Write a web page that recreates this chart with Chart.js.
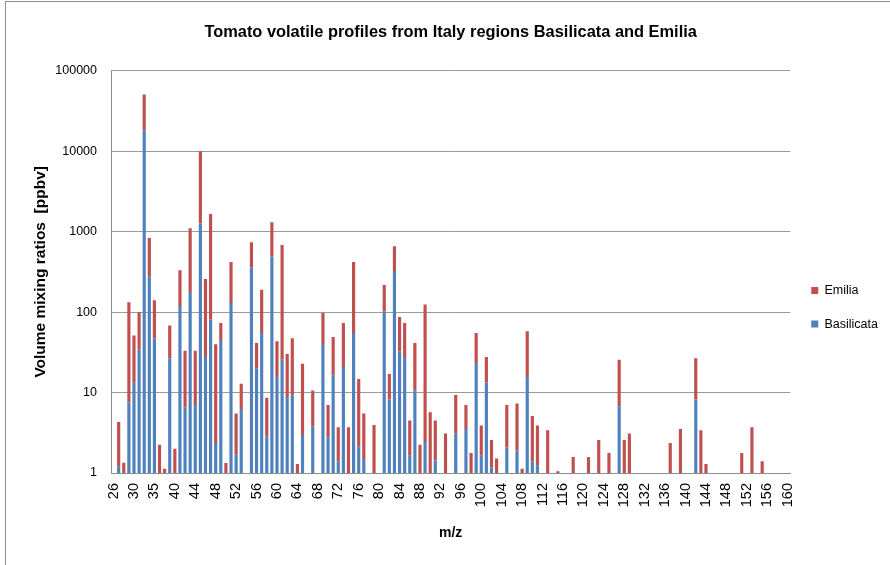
<!DOCTYPE html>
<html>
<head>
<meta charset="utf-8">
<script src="https://cdn.jsdelivr.net/npm/chart.js@4.4.1/dist/chart.umd.min.js"></script>
<style>
  html, body { margin: 0; padding: 0; background: #fff; overflow: hidden; }
  #wrap { position: relative; width: 890px; height: 565px; }
  #frame { position: absolute; left: 5px; top: 1px; width: 900px; height: 600px;
           border-left: 1px solid #8c8c8c; border-top: 1px solid #8c8c8c; pointer-events: none; }
</style>
</head>
<body>
<div id="wrap">
  <canvas id="chart" width="890" height="565"></canvas>
  <div id="frame"></div>
</div>
<script>
// ===== Data =====
const mzLabels = [
  26, 27, 28, 29, 30, 31, 33, 34, 35, 36,
  38, 39, 40, 41, 42, 43, 44, 45, 46, 47,
  48, 49, 50, 51, 52, 53, 54, 55, 56, 57,
  58, 59, 60, 61, 62, 63, 64, 65, 66, 67,
  68, 69, 70, 71, 72, 73, 74, 75, 76, 77,
  78, 79, 80, 81, 82, 83, 84, 85, 86, 87,
  88, 89, 90, 91, 92, 93, 94, 95, 96, 97,
  98, 99, 100, 101, 102, 103, 104, 105, 106, 107,
  108, 109, 110, 111, 112, 113, 114, 115, 116, 117,
  118, 119, 120, 121, 122, 123, 124, 125, 126, 127,
  128, 129, 130, 131, 132, 133, 134, 135, 136, 137,
  138, 139, 140, 141, 142, 143, 144, 145, 146, 147,
  148, 149, 150, 151, 152, 153, 154, 155, 156, 157,
  158, 159, 160
];

const basilicata = [
  null, 1.2, null, 7.6, 13.4, 34, 18200, 278, 47, null,
  null, 26.6, null, 119, 6.5, 178, 7.0, 1257, 27.7, 80,
  2.36, 45, null, 130, 1.69, 6.25, null, 357, 20, 55,
  2.86, 489, 15.6, 25.6, 8.8, 9.2, null, 2.96, null, 3.8,
  null, 40, 2.78, 16.4, 1.4, 20.8, null, 55, 2.15, 1.49,
  null, null, null, 102, 8.2, 324, 32.5, 27.7, 1.64, 10.6,
  null, 2.43, null, 1.44, null, null, null, 3.1, null, 3.52,
  null, 23.3, 1.64, 13.4, 1.18, null, null, 2.08, null, 1.91,
  null, 15.6, 1.4, 1.25, null, null, null, null, null, null,
  null, null, null, null, null, null, null, null, null, 6.74,
  null, null, null, null, null, null, null, null, null, null,
  null, null, null, null, 8.2, null, null, null, null, null,
  null, null, null, null, null, null, null, null, null, null,
  null, null, null
];

const emilia = [
  null, 3.1, 1.34, 125, 37.6, 66, 32200, 556, 93, 2.25,
  1.13, 41.4, 2.0, 211, 26.5, 922, 26, 8700, 230, 1577,
  37.6, 28, 1.33, 290, 3.8, 6.65, null, 379, 21.3, 135,
  5.74, 817, 27.7, 656, 21.3, 38, 1.29, 19.8, null, 6.8,
  null, 57.5, 4.2, 32.6, 2.3, 52.2, 3.7, 365, 12.55, 4.0,
  null, 3.95, null, 115, 8.8, 333, 54.5, 45.3, 2.86, 30.7,
  2.25, 121.6, 5.68, 3.06, null, 3.1, null, 6.2, null, 3.48,
  1.77, 31.7, 2.24, 14.3, 1.39, 1.51, null, 4.92, null, 5.39,
  1.13, 42.1, 3.7, 2.63, null, 3.39, null, 1.05, null, null,
  1.58, null, null, 1.58, null, 2.57, null, 1.77, null, 18.9,
  2.57, 3.1, null, null, null, null, null, null, null, 2.36,
  null, 3.52, null, null, 18.4, 3.39, 1.29, null, null, null,
  null, null, null, 1.77, null, 3.7, null, 1.4, null, null,
  null, null, null
];

const yTicks = [1, 10, 100, 1000, 10000, 100000];

// ===== Look =====
const FONT = "'Liberation Sans', Arial, sans-serif";
const BLUE = '#4f81bd';
const RED = '#c0504d';
const GRID = '#9a9a9a';

Chart.defaults.font.family = FONT;
Chart.defaults.color = '#000';

const ctx = document.getElementById('chart').getContext('2d');

new Chart(ctx, {
    type: 'bar',
    data: {
        labels: mzLabels,
        datasets: [
            {
                label: 'Basilicata',
                data: basilicata,
                backgroundColor: BLUE,
                barPercentage: 0.62,
                categoryPercentage: 1.0
            },
            {
                label: 'Emilia',
                data: emilia,
                backgroundColor: RED,
                barPercentage: 0.62,
                categoryPercentage: 1.0
            }
        ]
    },
    options: {
        responsive: false,
        animation: false,
        devicePixelRatio: 1,
        layout: { padding: { left: 0, right: 2, top: 0, bottom: 0 } },
        plugins: {
            title: {
                display: true,
                fullSize: false,
                text: 'Tomato volatile profiles from Italy regions Basilicata and Emilia',
                font: { size: 16.4, weight: 'bold' },
                color: '#000',
                padding: { top: 23, bottom: 28 }
            },
            legend: {
                position: 'right',
                fullSize: false,
                reverse: true,
                title: { display: true, text: '', font: { size: 10 }, padding: { top: 0, bottom: 59 } },
                labels: {
                    boxWidth: 7,
                    boxHeight: 7,
                    padding: 21,
                    font: { size: 12.5 },
                    color: '#000'
                }
            },
            tooltip: { enabled: false }
        },
        scales: {
            x: {
                stacked: true,
                grid: { display: false, drawTicks: false },
                border: { display: true, color: '#8c8c8c' },
                ticks: {
                    autoSkip: false,
                    minRotation: 90,
                    maxRotation: 90,
                    padding: 10,
                    font: { size: 14.5 },
                    color: '#000',
                    callback: (v, i) => (i % 4 === 0 ? mzLabels[i] : '')
                },
                title: {
                    display: true,
                    text: 'm/z',
                    font: { size: 14, weight: 'bold' },
                    color: '#000',
                    padding: { top: 0, bottom: 23 }
                },
                afterFit: (scale) => { scale.height = 92; }
            },
            y: {
                type: 'logarithmic',
                stacked: true,
                min: 1,
                max: 100000,
                grid: { color: GRID, lineWidth: 1, drawTicks: false },
                border: { display: true, color: '#8c8c8c' },
                afterBuildTicks: (scale) => {
                    scale.ticks = yTicks.map(v => ({ value: v }));
                },
                ticks: {
                    padding: 14,
                    font: { size: 12.5 },
                    color: '#000',
                    callback: (v) => String(v)
                },
                title: {
                    display: true,
                    text: 'Volume mixing ratios  [ppbv]',
                    font: { size: 15.5, weight: 'bold' },
                    color: '#000',
                    padding: { top: 31, bottom: 0 }
                },
                afterFit: (scale) => { scale.width = 111; }
            }
        }
    }
});
</script>
</body>
</html>
